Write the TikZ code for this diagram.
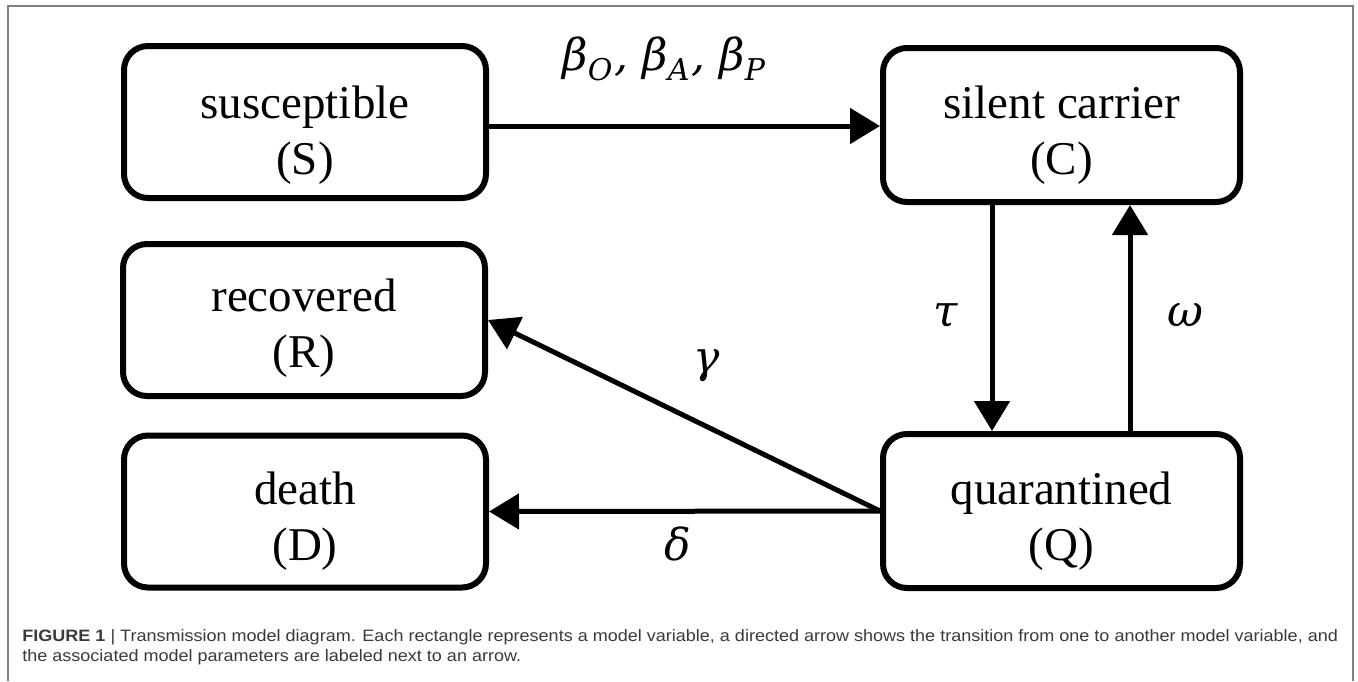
\documentclass[tikz,border=0pt]{standalone}
\usepackage{fontspec}
\usepackage{graphicx}
\setmainfont{Liberation Serif}
\newfontfamily\capfont{Liberation Sans}
\newfontfamily\lblfont{DejaVu Serif}
\usetikzlibrary{arrows.meta,calc}
\definecolor{capgray}{HTML}{3A3A3A}
\definecolor{framegray}{HTML}{808080}
\newcommand{\lsub}[1]{\raisebox{-5pt}{\fontsize{15}{15}\selectfont #1}}
\tikzset{
  statebox/.style={draw=black, line width=3pt, rounded corners=12pt, inner sep=0pt},
  leftbox/.style={statebox, minimum width=181pt, minimum height=76pt},
  rightbox/.style={statebox, minimum width=178.5pt, minimum height=77pt},
  boxtext/.style={align=center, inner sep=0pt, font=\fontsize{23.5}{28}\selectfont},
  arr/.style={line width=2.5pt, -{Triangle[length=15pt,width=17.5pt]}},
  param/.style={anchor=base, inner sep=0pt, font=\lblfont\itshape\fontsize{22}{24}\selectfont},
  captext/.style={anchor=base west, inner sep=0pt, text=capgray, font=\capfont\fontsize{8.25}{9}\selectfont}
}
\begin{document}
\begin{tikzpicture}[x=0.5pt,y=-0.5pt]
\useasboundingbox (0,0) rectangle (1358,681);
\draw[framegray, line width=0.75pt] (8,681) -- (8,6) -- (1353,6) -- (1353,681);

\node[leftbox]  (S) at (305,122)    {};
\node[rightbox] (C) at (1061.5,125) {};
\node[leftbox]  (R) at (304,320)    {};
\node[leftbox]  (D) at (305,511.5)  {};
\node[rightbox] (Q) at (1061.5,511) {};

\node[boxtext] (St) at ($(S.center)+(0,13)$) {susceptible\\(S)};
\node[boxtext] (Ct) at ($(C.center)+(0,10)$) {silent carrier\\(C)};
\node[boxtext] (Rt) at ($(R.center)+(0,8)$)  {recovered\\(R)};
\node[boxtext] (Dt) at ($(D.center)+(0,10)$) {death\\(D)};
\node[boxtext] (Qt) at ($(Q.center)+(0,10)$) {quarantined\\(Q)};

\draw[arr] ($(S.east)+(0,4)$) -- ($(S.east -| C.west)+(0,4)$);
\draw[arr] ($(C.south)+(-69.5,0)$) -- ($(Q.north)+(-69.5,0)$);
\draw[arr] ($(Q.north)+(68.5,0)$) -- ($(C.south)+(68.5,0)$);
\draw[arr] (Q.west) -- (R.east);
\draw[arr] (Q.west) -- (D.east);

\node[param, anchor=base west, font=\lblfont\itshape\fontsize{22}{24}\selectfont] (lbeta) at (562,70)
  {β\lsub{O}\kern1pt,\kern7ptβ\lsub{A}\kern1pt,\kern7ptβ\lsub{P}};
\node[param] (ltau)   at (946,326) {τ};
\node[param] (lomega) at (1185,326) {ω};
\node[param] (lgamma) at (707,372) {γ};
\node[param] (ldelta) at (678,560) {δ};

\node[captext] (cap1) at (22,641) {\scalebox{1.092}[1]{\textbf{FIGURE 1} | Transmission model diagram. Each rectangle represents a model variable, a directed arrow shows the transition from one to another model variable, and}};
\node[captext] (cap2) at (22,661) {\scalebox{1.092}[1]{the associated model parameters are labeled next to an arrow.}};
\end{tikzpicture}
\end{document}
